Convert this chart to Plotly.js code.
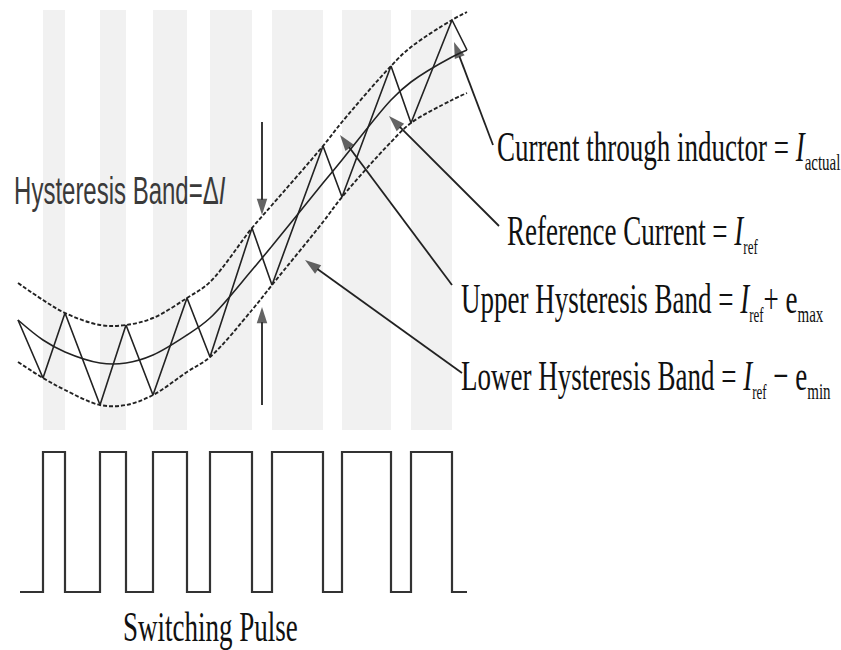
<!DOCTYPE html>
<html>
<head>
<meta charset="utf-8">
<script src="https://cdn.plot.ly/plotly-3.0.1.min.js"></script>
<style>html,body{margin:0;padding:0;background:#fff;}</style>
</head>
<body>
<div id="chart" style="width:841px;height:650px;"></div>
<script>
// ---- data (diagram units) ----
const pulseRise = [43, 100, 153, 210, 272, 342, 411];
const pulseFall = [65, 126, 187, 252, 323, 391, 452];
const stripeTop = 10;
const stripeBottom = 430;

const curveX     = [18, 43, 65, 100, 126, 153, 187, 210, 252, 272, 323, 342, 391, 411, 452, 467];
const upperBand  = [283, 300, 313, 325, 325, 318, 298, 282, 228, 205, 146, 122, 66, 47, 20, 12];
const refCurrent = [320, 340, 352, 363, 363, 355, 335, 318, 270, 246, 183, 160, 100, 82, 57, 50];
const lowerBand  = [362, 378, 390, 405, 405, 395, 372, 357, 310, 285, 222, 197, 142, 123, 100, 93];

const actualX = [18, 43, 65, 100, 126, 153, 187, 210, 252, 272, 323, 342, 391, 411, 452, 467];
const actualY = [320, 378, 313, 405, 325, 395, 298, 357, 228, 285, 146, 197, 66, 123, 20, 50];

const pulseX = [20, 43, 65, 100, 126, 153, 187, 210, 252, 272, 323, 342, 391, 411, 452, 467];
const pulseY = [592, 452, 592, 452, 592, 452, 592, 452, 592, 452, 592, 452, 592, 452, 592, 592];

const sub = (s, px) => '<sub><span style="font-size:' + px + 'px">' + s + '</span></sub>';
const labelTexts = [
  "Hysteresis Band=Δ<i>I</i>",
  "Current through inductor = <i>I</i>" + sub('actual', 15),
  "Reference Current = <i>I</i>" + sub('ref', 13),
  "Upper Hysteresis Band = <i>I</i>" + sub('ref', 13) + "+ e" + sub('max', 15),
  "Lower Hysteresis Band = <i>I</i>" + sub('ref', 13) + " − e" + sub('min', 15),
  "Switching Pulse"
];
const labelX = [12, 495, 505, 459, 459, 210];
const labelY = [190, 148, 232, 300, 377, 627];

// arrows: tip (x,y) and tail (ax,ay)
const arrowTipX  = [454, 389, 340, 305, 262, 262];
const arrowTipY  = [42, 116, 135, 260, 215, 307];
const arrowTailX = [493, 499, 452, 462, 262, 262];
const arrowTailY = [145, 226, 285, 373, 122, 405];

// ---- traces ----
const stripeX = pulseRise.map((r, i) => (r + pulseFall[i]) / 2);
const stripeW = pulseRise.map((r, i) => pulseFall[i] - r);

const arrX = [], arrY = [], arrSize = [], arrSym = [];
arrowTipX.forEach((x, i) => {
  arrX.push(arrowTailX[i], x, null);
  arrY.push(arrowTailY[i], arrowTipY[i], null);
  arrSize.push(0, 17, 0);
  arrSym.push('circle', 'arrow', 'circle');
});

const ink = '#222';
const traces = [
  {type: 'bar', x: stripeX, width: stripeW, y: stripeX.map(() => stripeBottom - stripeTop),
   base: stripeX.map(() => stripeTop), marker: {color: '#f1f1f1', line: {width: 0}}, hoverinfo: 'skip'},
  {type: 'scatter', mode: 'lines', x: curveX, y: upperBand, line: {color: ink, width: 1.9, dash: '4px,2px', shape: 'spline'}, hoverinfo: 'skip'},
  {type: 'scatter', mode: 'lines', x: curveX, y: lowerBand, line: {color: ink, width: 1.9, dash: '4px,2px', shape: 'spline'}, hoverinfo: 'skip'},
  {type: 'scatter', mode: 'lines', x: curveX, y: refCurrent, line: {color: ink, width: 1.6, shape: 'spline'}, hoverinfo: 'skip'},
  {type: 'scatter', mode: 'lines', x: actualX, y: actualY, line: {color: ink, width: 1.6}, hoverinfo: 'skip'},
  {type: 'scatter', mode: 'lines', x: pulseX, y: pulseY, line: {color: '#333', width: 2.2, shape: 'hv'}, hoverinfo: 'skip'},
  {type: 'scatter', mode: 'lines+markers', x: arrX, y: arrY, connectgaps: false,
   line: {color: ink, width: 1.8},
   marker: {symbol: arrSym, size: arrSize, color: ink, angleref: 'previous', line: {width: 0}}, hoverinfo: 'skip'}
];

const annotations = labelTexts.map((t, i) => {
  const sans = i === 0;
  return {
    x: labelX[i], y: labelY[i], xref: 'x', yref: 'y', text: t, showarrow: false,
    xanchor: i === 5 ? 'center' : 'left', yanchor: 'middle',
    font: sans ? {family: 'Liberation Sans, Arial, sans-serif', size: 24, color: '#3a3a3a'}
               : {family: 'Liberation Serif, Times New Roman, serif', size: 27, color: '#111'}
  };
});

const layout = {
  width: 841, height: 650,
  margin: {l: 0, r: 0, t: 0, b: 0},
  paper_bgcolor: '#fff', plot_bgcolor: '#fff',
  showlegend: false, barmode: 'overlay', bargap: 0,
  xaxis: {range: [0, 841], visible: false, fixedrange: true},
  yaxis: {range: [650, 0], visible: false, fixedrange: true},
  annotations: annotations
};

Plotly.newPlot('chart', traces, layout, {staticPlot: true}).then(() => {
  // the source image is horizontally squeezed: stretch label text vertically
  const k = 1.6;
  document.querySelectorAll('g.annotation text.annotation-text').forEach(el => {
    if (!el.textContent) return;
    const b = el.getBBox();
    const cy = b.y + b.height / 2;
    el.setAttribute('transform', 'translate(0,' + (cy * (1 - k)) + ') scale(1,' + k + ')');
  });
});
</script>
</body>
</html>
